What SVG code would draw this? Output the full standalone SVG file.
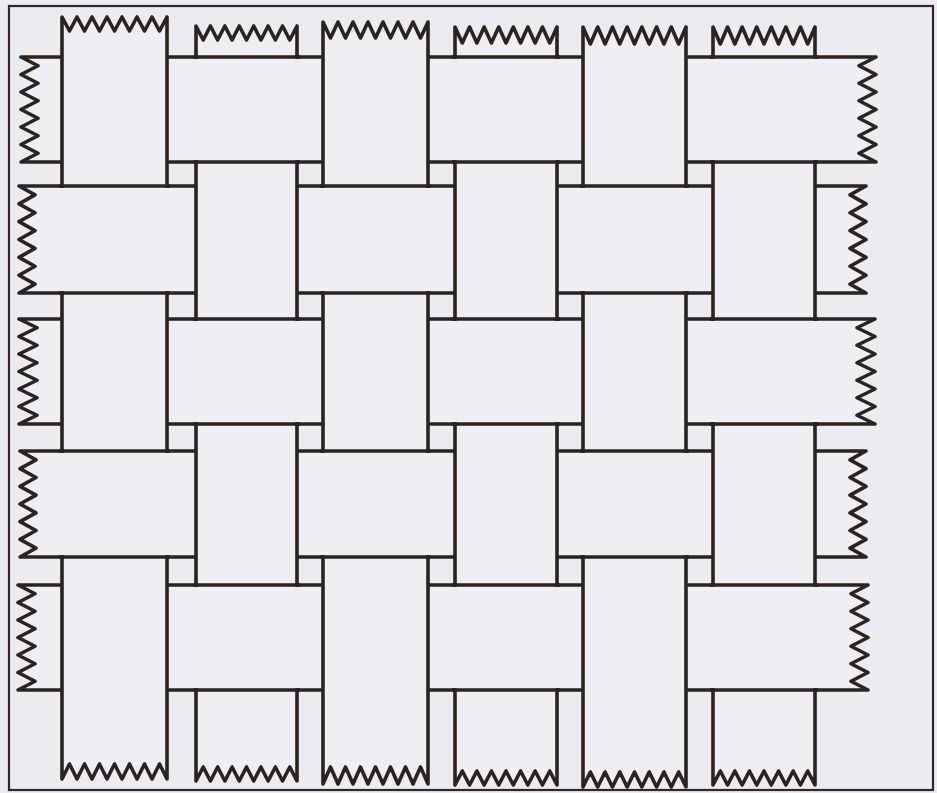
<svg xmlns="http://www.w3.org/2000/svg" width="937" height="793" viewBox="0 0 937 793">
<style>
.strip{fill:#efeef2;stroke:#2a2321;stroke-width:3.6;stroke-linejoin:round}
.patch{fill:#efeef2;stroke:none}
.edge{fill:none;stroke:#2a2321;stroke-width:3.6}
</style>
<rect x="0" y="0" width="937" height="793" fill="#ecebf0"/>
<rect id="frame" x="9" y="6" width="924" height="784" fill="none" stroke="#2f2826" stroke-width="2.2"/>
<g id="weft">
<path id="h1" class="strip" d="M21,57H876l-17,8.75l17,8.75l-17,8.75l17,8.75l-17,8.75l17,8.75l-17,8.75l17,8.75l-17,8.75l17,8.75l-17,8.75l17,8.75H21l17,-8.75l-17,-8.75l17,-8.75l-17,-8.75l17,-8.75l-17,-8.75l17,-8.75l-17,-8.75l17,-8.75l-17,-8.75l17,-8.75l-17,-8.75Z"/>
<path id="h2" class="strip" d="M19,186H866l-16,8.92l16,8.92l-16,8.92l16,8.92l-16,8.92l16,8.92l-16,8.92l16,8.92l-16,8.92l16,8.92l-16,8.92l16,8.92H19l16,-8.92l-16,-8.92l16,-8.92l-16,-8.92l16,-8.92l-16,-8.92l16,-8.92l-16,-8.92l16,-8.92l-16,-8.92l16,-8.92l-16,-8.92Z"/>
<path id="h3" class="strip" d="M19,319H875l-18,8.75l18,8.75l-18,8.75l18,8.75l-18,8.75l18,8.75l-18,8.75l18,8.75l-18,8.75l18,8.75l-18,8.75l18,8.75H19l18,-8.75l-18,-8.75l18,-8.75l-18,-8.75l18,-8.75l-18,-8.75l18,-8.75l-18,-8.75l18,-8.75l-18,-8.75l18,-8.75l-18,-8.75Z"/>
<path id="h4" class="strip" d="M20,451H866l-16,8.83l16,8.83l-16,8.83l16,8.83l-16,8.83l16,8.83l-16,8.83l16,8.83l-16,8.83l16,8.83l-16,8.83l16,8.83H20l16,-8.83l-16,-8.83l16,-8.83l-16,-8.83l16,-8.83l-16,-8.83l16,-8.83l-16,-8.83l16,-8.83l-16,-8.83l16,-8.83l-16,-8.83Z"/>
<path id="h5" class="strip" d="M18,585H868l-17,8.75l17,8.75l-17,8.75l17,8.75l-17,8.75l17,8.75l-17,8.75l17,8.75l-17,8.75l17,8.75l-17,8.75l17,8.75H18l17,-8.75l-17,-8.75l17,-8.75l-17,-8.75l17,-8.75l-17,-8.75l17,-8.75l-17,-8.75l17,-8.75l-17,-8.75l17,-8.75l-17,-8.75Z"/>
</g>
<g id="warp">
<path id="v1" class="strip" d="M62,17l7.5,14l7.5,-14l7.5,14l7.5,-14l7.5,14l7.5,-14l7.5,14l7.5,-14l7.5,14l7.5,-14l7.5,14l7.5,-14l7.5,14l7.5,-14V779l-7.5,-15l-7.5,15l-7.5,-15l-7.5,15l-7.5,-15l-7.5,15l-7.5,-15l-7.5,15l-7.5,-15l-7.5,15l-7.5,-15l-7.5,15l-7.5,-15l-7.5,15Z"/>
<path id="v2" class="strip" d="M196,26l7.214,14l7.214,-14l7.214,14l7.214,-14l7.214,14l7.214,-14l7.214,14l7.214,-14l7.214,14l7.214,-14l7.214,14l7.214,-14l7.214,14l7.214,-14V781l-7.214,-14l-7.214,14l-7.214,-14l-7.214,14l-7.214,-14l-7.214,14l-7.214,-14l-7.214,14l-7.214,-14l-7.214,14l-7.214,-14l-7.214,14l-7.214,-14l-7.214,14Z"/>
<path id="v3" class="strip" d="M323,22l7.5,16l7.5,-16l7.5,16l7.5,-16l7.5,16l7.5,-16l7.5,16l7.5,-16l7.5,16l7.5,-16l7.5,16l7.5,-16l7.5,16l7.5,-16V784l-7.5,-17l-7.5,17l-7.5,-17l-7.5,17l-7.5,-17l-7.5,17l-7.5,-17l-7.5,17l-7.5,-17l-7.5,17l-7.5,-17l-7.5,17l-7.5,-17l-7.5,17Z"/>
<path id="v4" class="strip" d="M455,27l7.286,16l7.286,-16l7.286,16l7.286,-16l7.286,16l7.286,-16l7.286,16l7.286,-16l7.286,16l7.286,-16l7.286,16l7.286,-16l7.286,16l7.286,-16V785l-7.286,-14l-7.286,14l-7.286,-14l-7.286,14l-7.286,-14l-7.286,14l-7.286,-14l-7.286,14l-7.286,-14l-7.286,14l-7.286,-14l-7.286,14l-7.286,-14l-7.286,14Z"/>
<path id="v5" class="strip" d="M583,27l7.357,17l7.357,-17l7.357,17l7.357,-17l7.357,17l7.357,-17l7.357,17l7.357,-17l7.357,17l7.357,-17l7.357,17l7.357,-17l7.357,17l7.357,-17V787l-7.357,-15l-7.357,15l-7.357,-15l-7.357,15l-7.357,-15l-7.357,15l-7.357,-15l-7.357,15l-7.357,-15l-7.357,15l-7.357,-15l-7.357,15l-7.357,-15l-7.357,15Z"/>
<path id="v6" class="strip" d="M713,27l7.286,17l7.286,-17l7.286,17l7.286,-17l7.286,17l7.286,-17l7.286,17l7.286,-17l7.286,17l7.286,-17l7.286,17l7.286,-17l7.286,17l7.286,-17V785l-7.286,-14l-7.286,14l-7.286,-14l-7.286,14l-7.286,-14l-7.286,14l-7.286,-14l-7.286,14l-7.286,-14l-7.286,14l-7.286,-14l-7.286,14l-7.286,-14l-7.286,14Z"/>
</g>
<g id="weft-over">
<g id="h1-over">
<rect class="patch" x="193" y="59" width="107" height="101"/>
<rect class="patch" x="452" y="59" width="108" height="101"/>
<rect class="patch" x="710" y="59" width="108" height="101"/>
<path class="edge" d="M193,57H300M193,162H300M452,57H560M452,162H560M710,57H818M710,162H818"/>
</g>
<g id="h2-over">
<rect class="patch" x="59" y="188" width="111" height="103"/>
<rect class="patch" x="320" y="188" width="111" height="103"/>
<rect class="patch" x="580" y="188" width="109" height="103"/>
<path class="edge" d="M59,186H170M59,293H170M320,186H431M320,293H431M580,186H689M580,293H689"/>
</g>
<g id="h3-over">
<rect class="patch" x="193" y="321" width="107" height="101"/>
<rect class="patch" x="452" y="321" width="108" height="101"/>
<rect class="patch" x="710" y="321" width="108" height="101"/>
<path class="edge" d="M193,319H300M193,424H300M452,319H560M452,424H560M710,319H818M710,424H818"/>
</g>
<g id="h4-over">
<rect class="patch" x="59" y="453" width="111" height="102"/>
<rect class="patch" x="320" y="453" width="111" height="102"/>
<rect class="patch" x="580" y="453" width="109" height="102"/>
<path class="edge" d="M59,451H170M59,557H170M320,451H431M320,557H431M580,451H689M580,557H689"/>
</g>
<g id="h5-over">
<rect class="patch" x="193" y="587" width="107" height="101"/>
<rect class="patch" x="452" y="587" width="108" height="101"/>
<rect class="patch" x="710" y="587" width="108" height="101"/>
<path class="edge" d="M193,585H300M193,690H300M452,585H560M452,690H560M710,585H818M710,690H818"/>
</g>
</g>
</svg>
